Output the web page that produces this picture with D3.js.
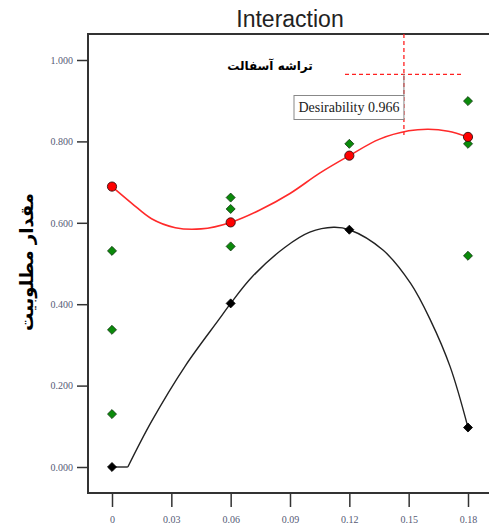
<!DOCTYPE html>
<html>
<head>
<meta charset="utf-8">
<script src="https://cdn.jsdelivr.net/npm/d3@7"></script>
<style>
  html, body { margin: 0; padding: 0; background: #fff; }
  svg { display: block; }
</style>
</head>
<body>
<div id="chart"></div>
<script>
// === data ===
const xTicks = [0, 0.03, 0.06, 0.09, 0.12, 0.15, 0.18];
const yTicks = [0, 0.2, 0.4, 0.6, 0.8, 1.0];

// design points
const greenPts = [
	[0, 0.531], [0, 0.337], [0, 0.130],
	[0.06, 0.662], [0.06, 0.634], [0.06, 0.542],
	[0.12, 0.794],
	[0.18, 0.899], [0.18, 0.794], [0.18, 0.519],
];
const redPts = [[0, 0.689], [0.06, 0.601], [0.12, 0.765], [0.18, 0.811]];
const blackPts = [[0, 0.0], [0.06, 0.402], [0.12, 0.583], [0.18, 0.097]];

// fitted curves
const redCurve = [
	[0, 0.689], [0.010, 0.648], [0.020, 0.610], [0.032, 0.588], [0.045, 0.585],
	[0.060, 0.601], [0.075, 0.632], [0.090, 0.672], [0.105, 0.722], [0.120, 0.765],
	[0.135, 0.805], [0.150, 0.826], [0.160, 0.830], [0.170, 0.825], [0.180, 0.811],
];
const blackFlat = [[0, 0], [0.008, 0]];
const blackCurve = [
	[0.008, 0], [0.020, 0.112], [0.037, 0.248], [0.054, 0.362], [0.060, 0.402],
	[0.071, 0.468], [0.0875, 0.540], [0.100, 0.577], [0.112, 0.589], [0.120, 0.583],
	[0.137, 0.533], [0.151, 0.451], [0.161, 0.361], [0.171, 0.246], [0.180, 0.097],
];

const desirability = 0.966;
const desirX = 0.1476;

const W = 489, H = 528;
const plot = { left: 88, top: 34, right: 489, bottom: 493 };

const svg = d3.select("#chart").append("svg").attr("width", W).attr("height", H);

const x = d3.scaleLinear().domain([0, 0.18]).range([112, 468]);
const y = d3.scaleLinear().domain([0, 1]).range([467, 60]);

// title
svg.append("text")
	.attr("x", 290).attr("y", 27)
	.attr("text-anchor", "middle")
	.style("font-family", "'Liberation Sans', Arial, sans-serif")
	.style("font-size", "23px")
	.style("fill", "#222")
	.text("Interaction");

// y axis
const yAxis = d3.axisLeft(y).tickValues(yTicks).tickFormat(d3.format(".3f")).tickSize(11).tickPadding(4);
const gy = svg.append("g").attr("transform", `translate(${plot.left},0)`).call(yAxis);
gy.select(".domain").remove();
gy.selectAll(".tick line").attr("stroke", "#333").attr("stroke-width", 1.5);
gy.selectAll(".tick text")
	.style("font-family", "'Liberation Serif', 'Times New Roman', serif")
	.style("font-size", "10px")
	.style("fill", "#555a75");

// x axis
const xAxis = d3.axisBottom(x).tickValues(xTicks)
	.tickFormat((d) => (d === 0 ? "0" : d3.format(".2f")(d)))
	.tickSize(13).tickPadding(9);
const gx = svg.append("g").attr("transform", `translate(0,${plot.bottom + 1})`).call(xAxis);
gx.select(".domain").remove();
gx.selectAll(".tick line").attr("stroke", "#333").attr("stroke-width", 1.5);
gx.selectAll(".tick text")
	.style("font-family", "'Liberation Serif', 'Times New Roman', serif")
	.style("font-size", "10px")
	.style("fill", "#555a75");

// frame (left, top, bottom)
svg.append("path")
	.attr("d", `M${plot.right},${plot.top}H${plot.left}V${plot.bottom}H${plot.right}`)
	.attr("fill", "none")
	.attr("stroke", "#333")
	.attr("stroke-width", 2);

// y label (rotated)
svg.append("text")
	.attr("transform", "translate(28,262) rotate(-90)")
	.attr("text-anchor", "middle")
	.attr("dominant-baseline", "middle")
	.style("font-family", "'DejaVu Sans', sans-serif")
	.style("font-weight", "bold")
	.style("font-size", "18px")
	.style("fill", "#000")
	.text("مقدار مطلوبیت");

// persian subtitle
svg.append("text")
	.attr("x", 270).attr("y", 70)
	.attr("text-anchor", "middle")
	.style("font-family", "'DejaVu Sans', sans-serif")
	.style("font-weight", "bold")
	.style("font-size", "12px")
	.style("fill", "#000")
	.text("تراشه آسفالت");

// desirability markers
const xd = x(desirX);
svg.append("line")
	.attr("x1", xd).attr("x2", xd)
	.attr("y1", plot.top).attr("y2", 135)
	.attr("stroke", "#ff2020").attr("stroke-width", 1.3)
	.attr("stroke-dasharray", "4,3");
svg.append("line")
	.attr("x1", 345).attr("x2", 462)
	.attr("y1", y(desirability) + 0.5).attr("y2", y(desirability) + 0.5)
	.attr("stroke", "#ff2020").attr("stroke-width", 1.3)
	.attr("stroke-dasharray", "4,3");

// curves
const line = d3.line().x((d) => x(d[0])).y((d) => y(d[1])).curve(d3.curveCatmullRom.alpha(0.5));
svg.append("path").datum(redCurve)
	.attr("d", line).attr("fill", "none")
	.attr("stroke", "#ff2a2a").attr("stroke-width", 1.6);
svg.append("path").datum(blackFlat)
	.attr("d", line).attr("fill", "none")
	.attr("stroke", "#222").attr("stroke-width", 1.4);
svg.append("path").datum(blackCurve)
	.attr("d", line).attr("fill", "none")
	.attr("stroke", "#222").attr("stroke-width", 1.4);

// callout box
svg.append("line")
	.attr("x1", xd).attr("x2", xd)
	.attr("y1", y(desirability)).attr("y2", 96)
	.attr("stroke", "#888").attr("stroke-width", 1);
svg.append("rect")
	.attr("x", 294).attr("y", 95.5)
	.attr("width", xd - 294).attr("height", 24)
	.attr("fill", "#fff").attr("stroke", "#888").attr("stroke-width", 1);
svg.append("text")
	.attr("x", (294 + xd) / 2).attr("y", 112)
	.attr("text-anchor", "middle")
	.style("font-family", "'Liberation Serif', 'Times New Roman', serif")
	.style("font-size", "14px")
	.style("fill", "#222")
	.text(`Desirability ${desirability.toFixed(3)}`);

// markers
const diamond = d3.symbol().type(d3.symbolDiamond2).size(52);
svg.append("g").selectAll("path")
	.data(greenPts).join("path")
	.attr("transform", (d) => `translate(${x(d[0])},${y(d[1])})`)
	.attr("d", diamond)
	.attr("fill", "#0a8a0a").attr("stroke", "#113311").attr("stroke-width", 0.8);
svg.append("g").selectAll("path")
	.data(blackPts).join("path")
	.attr("transform", (d) => `translate(${x(d[0])},${y(d[1])})`)
	.attr("d", diamond)
	.attr("fill", "#000").attr("stroke", "#000").attr("stroke-width", 0.8);
svg.append("g").selectAll("circle")
	.data(redPts).join("circle")
	.attr("cx", (d) => x(d[0])).attr("cy", (d) => y(d[1]))
	.attr("r", 4.6)
	.attr("fill", "#ff0000").attr("stroke", "#331111").attr("stroke-width", 0.9);
</script>
</body>
</html>
